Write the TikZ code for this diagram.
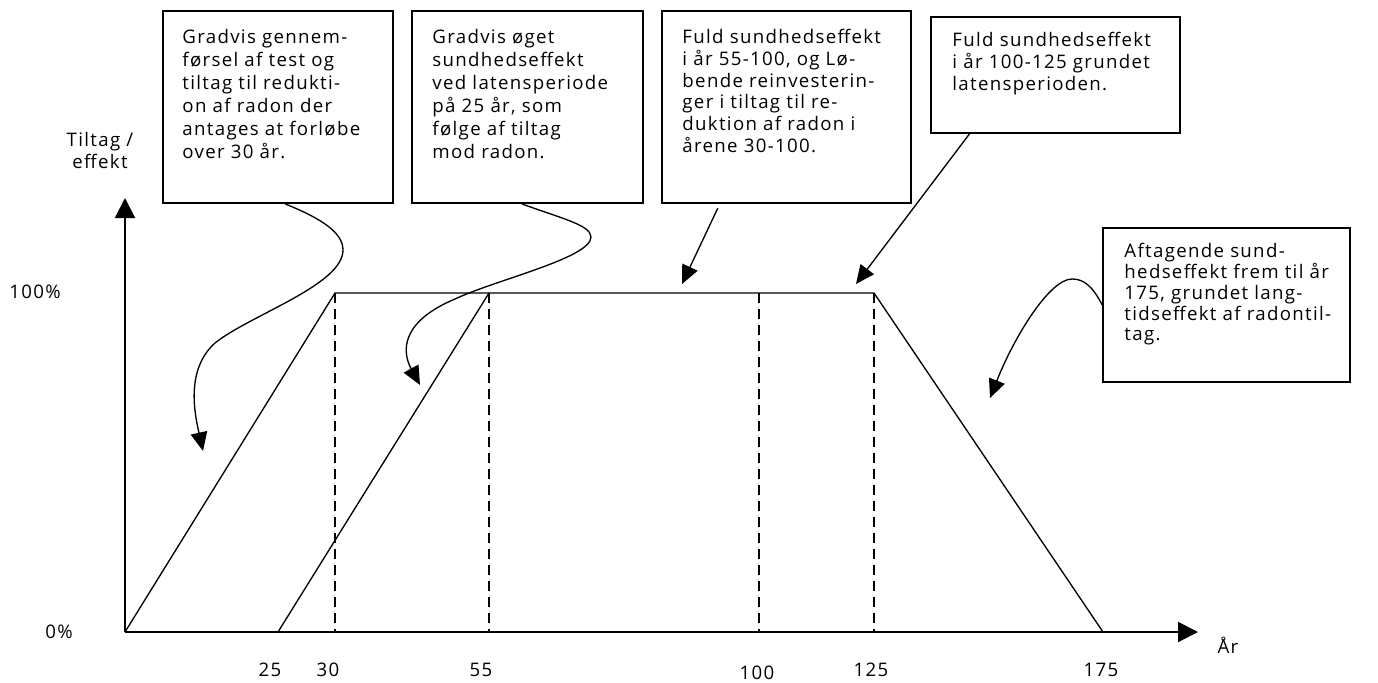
\documentclass[tikz,border=0pt]{standalone}
\usepackage{fontspec}
\setmainfont{Open Sans}[LetterSpace=7]
\usetikzlibrary{arrows.meta,calc,fit}

\begin{document}
\begin{tikzpicture}[
  x=0.75pt, y=-0.75pt,
  font=\fontsize{14}{16.5}\selectfont,
  box/.style={draw, line width=1.2pt, inner sep=0pt},
  txt/.style={align=left, inner sep=0pt, anchor=north west},
  wide/.style={font=\fontsize{14}{17.25}\selectfont},
  mid/.style={font=\fontsize{14}{16.25}\selectfont},
  tight/.style={font=\fontsize{14}{15.6}\selectfont},
  lbl/.style={inner sep=0pt},
  axis/.style={line width=1.5pt, -{Triangle[length=15pt,width=15pt]}},
  curve/.style={line width=1pt},
  guide/.style={line width=1pt, dash pattern=on 7.5pt off 4.5pt},
  point/.style={line width=1pt, -{Triangle[length=14pt,width=12.5pt]}},
]
  \useasboundingbox (0,0) rectangle (1378,682);
  % --- axes ---
  \coordinate (O) at (125,632);
  \coordinate (ytop) at (125,198);
  \coordinate (xend) at (1198,632);
  \draw[axis] (O) -- (ytop);
  \draw[axis] (O) -- (xend);
  \node[lbl, align=center] (ylab) at (100,150) {Tiltag /\\effekt};
  \node[lbl] (xlab) at (1228,645) {År};
  \node[lbl] (p100) at (35,292) {100\%};
  \node[lbl] (p0) at (59,632) {0\%};
  % --- curve ---
  \coordinate (r30) at (335,293);
  \coordinate (r55) at (489,293);
  \coordinate (r100) at (759,293);
  \coordinate (r125) at (874,293);
  \coordinate (s25) at (278,632);
  \coordinate (e175) at (1103,632);
  \draw[curve] (O) -- (r30) -- (r125) -- (e175);
  \draw[curve] (s25) -- (r55);
  \foreach \c in {r30,r55,r100,r125}
    \draw[guide] (\c) -- (\c |- O);
  \foreach \t/\x/\y in {25/270/670, 30/328/670, 55/481/670,
                        100/757/673, 125/871/670, 175/1101/670}
    \node[lbl] at (\x,\y) {\t};
  % --- boxes ---
  \node[box, fit={(163,11) (393,203)}] (b1) {};
  \node[box, fit={(412,11) (643,203)}] (b2) {};
  \node[box, fit={(662,11) (911,203)}] (b3) {};
  \node[box, fit={(931,17) (1180,133)}] (b4) {};
  \node[box, fit={(1103,228) (1350,382)}] (b5) {};
  \node[txt, wide] (t1) at ([shift={(20,19)}]b1.north west)
    {Gradvis gennem-\\førsel af test og\\tiltag til redukti-\\on af radon der\\antages at forløbe\\over 30 år.};
  \node[txt, wide] (t2) at ([shift={(21,19)}]b2.north west)
    {Gradvis øget\\sundhedseffekt\\ved latensperiode\\på 25 år, som\\følge af tiltag\\mod radon.};
  \node[txt, mid] (t3) at ([shift={(21,19)}]b3.north west)
    {Fuld sundhedseffekt\\i år 55-100, og Lø-\\bende reinvesterin-\\ger i tiltag til re-\\duktion af radon i\\årene 30-100.};
  \node[txt, mid] (t4) at ([shift={(22,16)}]b4.north west)
    {Fuld sundhedseffekt\\i år 100-125 grundet\\latensperioden.};
  \node[txt, tight] (t5) at ([shift={(22,16)}]b5.north west)
    {Aftagende sund-\\hedseffekt frem til år\\175, grundet lang-\\tidseffekt af radontil-\\tag.};
  % --- pointers ---
  \coordinate (h1) at (203,451);
  \coordinate (h2) at (420,385);
  \coordinate (h3) at (682,284);
  \coordinate (h4) at (856,284);
  \coordinate (h5) at (990,398);
  \draw[point] ($(b1.south west)!0.53!(b1.south east)$)
    .. controls (320,218) and (343,232) .. (343,250)
    .. controls (343,285) and (250,315) .. (215,343)
    .. controls (185,370) and (195,415) .. (h1);
  \draw[point] ($(b2.south west)!0.475!(b2.south east)$)
    .. controls (560,218) and (591,225) .. (591,237)
    .. controls (591,258) and (495,280) .. (455,299)
    .. controls (400,322) and (402,352) .. (h2);
  \draw[point, shorten <=3.75pt] ($(b3.south west)!0.234!(b3.south east)$) -- (h3);
  \draw[point] ($(b4.south west)!0.157!(b4.south east)$) -- (h4);
  \draw[point] (b5.west)
    .. controls (1092,285) and (1083,279) .. (1072,279)
    .. controls (1050,279) and (1015,335) .. (h5);
\end{tikzpicture}
\end{document}
